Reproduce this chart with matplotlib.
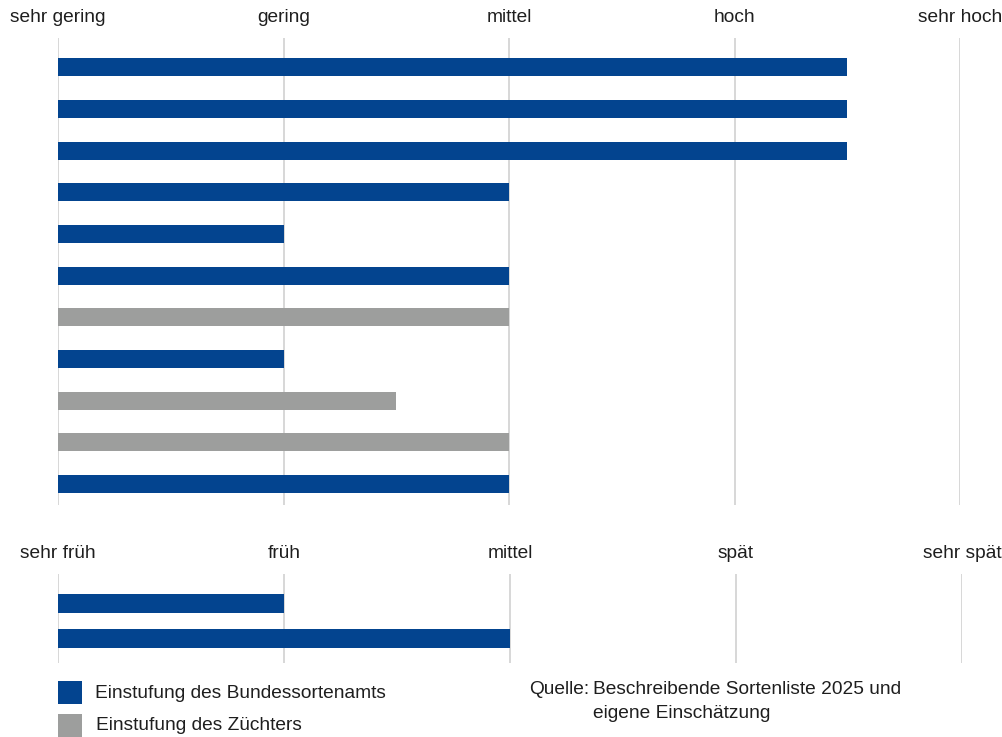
import matplotlib.pyplot as plt
from matplotlib.patches import Rectangle

BLUE = "#03448f"
GREY = "#9d9e9d"
GRID = "#d4d4d4"
TXT = "#1e1e1e"

# Skala 1..5
top_ticks = ["sehr gering", "gering", "mittel", "hoch", "sehr hoch"]
top_values = [4.5, 4.5, 4.5, 3.0, 2.0, 3.0, 3.0, 2.0, 2.5, 3.0, 3.0]
top_source = ["B", "B", "B", "B", "B", "B", "Z", "B", "Z", "Z", "B"]

bottom_ticks = ["sehr früh", "früh", "mittel", "spät", "sehr spät"]
bottom_values = [2.0, 3.0]
bottom_source = ["B", "B"]

legend_labels = ["Einstufung des Bundessortenamts", "Einstufung des Züchters"]
source_lines = ["Beschreibende Sortenliste 2025 und", "eigene Einschätzung"]

plt.rcParams["font.family"] = ["Liberation Sans", "DejaVu Sans"]
FS = 13.8

W, H = 1002, 737
fig = plt.figure(figsize=(W / 100, H / 100), dpi=100)


def px_axes(x0, y0, x1, y1):
    return fig.add_axes([x0 / W, 1 - y1 / H, (x1 - x0) / W, (y1 - y0) / H])


def style(ax, labels):
    ax.set_xlim(1, 5)
    ax.set_xticks(range(1, 6))
    ax.set_xticklabels(labels, fontsize=FS, color=TXT)
    ax.xaxis.tick_top()
    ax.tick_params(axis="x", length=0, pad=9)
    ax.set_yticks([])
    for s in ax.spines.values():
        s.set_visible(False)
    ax.grid(True, axis="x", color=GRID, linewidth=1.3)
    ax.set_axisbelow(True)


def colors(src):
    return [BLUE if s == "B" else GREY for s in src]


ax1 = px_axes(58, 38, 960, 505)
n = len(top_values)
ax1.barh(range(n), [v - 1 for v in top_values], left=1, height=0.43,
         color=colors(top_source))
ax1.set_ylim(n - 0.5, -0.7)
style(ax1, top_ticks)

ax2 = px_axes(58, 574, 962, 663)
m = len(bottom_values)
ax2.barh(range(m), [v - 1 for v in bottom_values], left=1, height=0.53,
         color=colors(bottom_source))
ax2.set_ylim(m - 0.3, -0.85)
style(ax2, bottom_ticks)

# Legende
for i, (lab, col) in enumerate(zip(legend_labels, [BLUE, GREY])):
    y_top = 681 + i * 33
    fig.patches.append(Rectangle((58 / W, 1 - (y_top + 23) / H), 24 / W, 23 / H,
                                 facecolor=col, transform=fig.transFigure))
    fig.text((95 + i) / W, 1 - (y_top + 12) / H, lab, fontsize=FS,
             va="center", color=TXT)

# Quelle
fig.text(529 / W, 1 - 690 / H, "Quelle:", fontsize=FS, va="center", color=TXT)
for i, line in enumerate(source_lines):
    fig.text(593 / W, 1 - (690 + i * 24) / H, line, fontsize=FS,
             va="center", color=TXT)

fig.savefig("out.png", dpi=100)
